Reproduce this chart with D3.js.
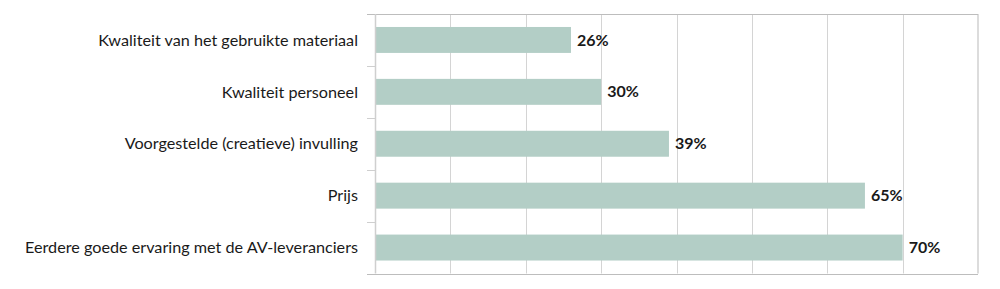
<!DOCTYPE html>
<html><head><meta charset="utf-8">
<script src="https://cdn.jsdelivr.net/npm/d3@7"></script>
<style>body{margin:0;background:#fff}svg{display:block}</style>
</head><body>
<svg id="c" width="1000" height="289"></svg>
<script>
const categories = ["Kwaliteit van het gebruikte materiaal","Kwaliteit personeel","Voorgestelde (creatieve) invulling","Prijs","Eerdere goede ervaring met de AV-leveranciers"];
const values = [26, 30, 39, 65, 70];
const valueLabels = ["26%","30%","39%","65%","70%"];
const xTicks = [0,10,20,30,40,50,60,70,80];

const svg = d3.select("#c");
const m = {l:375, r:978, t:14, b:273.5};
const x = d3.scaleLinear().domain([0,80]).range([m.l, m.r]);
const y = d3.scaleBand().domain(categories).range([m.t, m.b]).paddingInner(0.5).paddingOuter(0.25);
const font = "Lato, 'Noto Sans', sans-serif";

// gridlines
svg.append("g").selectAll("line").data(xTicks.slice(1,-1)).join("line")
  .attr("x1", d=>Math.round(x(d))+0.5).attr("x2", d=>Math.round(x(d))+0.5)
  .attr("y1", m.t).attr("y2", m.b).attr("stroke","#d4d4d4").attr("stroke-width",1);
// right border
svg.append("line").attr("x1", m.r).attr("x2", m.r).attr("y1", m.t).attr("y2", m.b)
  .attr("stroke","#dcdcdc").attr("stroke-width",2);
// top & bottom border
[m.t, m.b].forEach(v=>{
  svg.append("line").attr("x1", m.l-8).attr("x2", m.r).attr("y1", Math.round(v)+0.5).attr("y2", Math.round(v)+0.5)
    .attr("stroke","#bdbdbd").attr("stroke-width",1.2);
});
// band boundary ticks
const step = y.step();
const bounds = categories.slice(1).map((c)=>y(c) - step*y.paddingInner()/2);
svg.append("g").selectAll("line").data(bounds).join("line")
  .attr("x1", m.l-8).attr("x2", m.l).attr("y1", d=>Math.round(d)+0.5).attr("y2", d=>Math.round(d)+0.5)
  .attr("stroke","#cfcfcf").attr("stroke-width",1);

// bars
svg.append("g").selectAll("rect").data(values).join("rect")
  .attr("x", x(0)).attr("y", (d,i)=>y(categories[i]))
  .attr("width", d=>x(d)-x(0)).attr("height", y.bandwidth())
  .attr("fill","#b3cec6");

// left axis line
svg.append("line").attr("x1", m.l+0.5).attr("x2", m.l+0.5).attr("y1", m.t).attr("y2", m.b)
  .attr("stroke","#cfcfcf").attr("stroke-width",1.5);

// category labels
svg.append("g").selectAll("text").data(categories).join("text")
  .attr("x", m.l-17).attr("y", d=>y(d)+y.bandwidth()/2)
  .attr("dy","0.35em").attr("text-anchor","end")
  .attr("font-family", font).attr("font-size", 16.2).attr("fill","#1a1a1a")
  .text(d=>d);

// value labels
svg.append("g").selectAll("text").data(values).join("text")
  .attr("x", d=>x(d)+6).attr("y", (d,i)=>y(categories[i])+y.bandwidth()/2)
  .attr("dy","0.35em")
  .attr("font-family", font).attr("font-size", 16).attr("font-weight","bold").attr("fill","#1a1a1a")
  .text((d,i)=>valueLabels[i]);
</script>
</body></html>
